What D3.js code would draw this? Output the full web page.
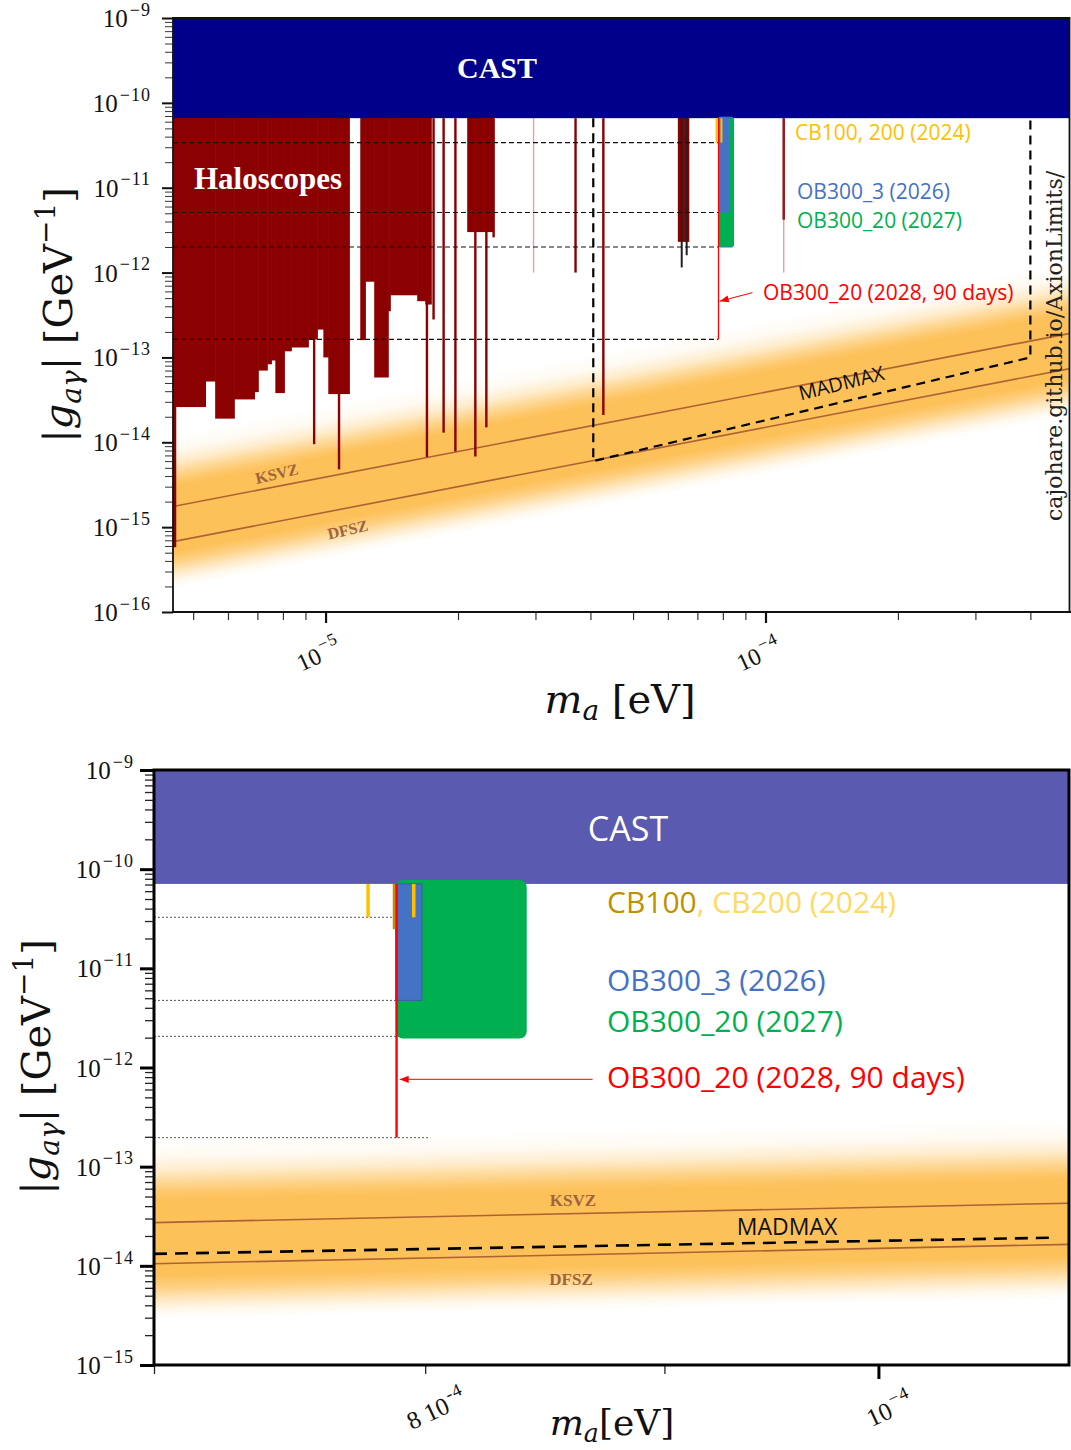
<!DOCTYPE html>
<html>
<head>
<meta charset="utf-8">
<script src="https://cdn.jsdelivr.net/npm/d3@7"></script>
<style>
  body { margin: 0; background: #fff; }
  svg { display: block; }
</style>
</head>
<body>
<svg id="chart" width="1071" height="1450"></svg>
<script>
// ---------- TOP PANEL DATA ----------
const topMassDomain = [4.5e-6, 5e-4];
const topCouplingDomain = [1e-16, 1e-9];
const topCastLimit = 6.6e-11;
// haloscope exclusion, stepped: [m_low, m_high, g_low]
const topHaloSteps = [
  [4.51e-6, 4.57e-6, 5.8e-16],
  [4.57e-6, 5.34e-6, 2.6e-14],
  [5.34e-6, 5.62e-6, 5.2e-14],
  [5.62e-6, 6.21e-6, 1.9e-14],
  [6.21e-6, 6.90e-6, 3.2e-14],
  [6.90e-6, 7.04e-6, 3.9e-14],
  [7.04e-6, 7.38e-6, 7.0e-14],
  [7.38e-6, 7.54e-6, 8.3e-14],
  [7.54e-6, 7.70e-6, 9.2e-14],
  [7.70e-6, 8.07e-6, 3.8e-14],
  [8.07e-6, 8.37e-6, 1.18e-13],
  [8.37e-6, 9.15e-6, 1.31e-13],
  [9.15e-6, 9.59e-6, 1.63e-13],
  [9.59e-6, 9.90e-6, 2.13e-13],
  [9.90e-6, 1.016e-5, 1.0e-13],
  [1.016e-5, 1.134e-5, 3.7e-14],
  [1.201e-5, 1.233e-5, 1.6e-13],
  [1.233e-5, 1.292e-5, 7.8e-13],
  [1.292e-5, 1.390e-5, 5.8e-14],
  [1.390e-5, 1.405e-5, 3.5e-13],
  [1.405e-5, 1.618e-5, 5.4e-13],
  [1.618e-5, 1.688e-5, 4.6e-13],
  [1.688e-5, 1.741e-5, 4.2e-13],
  [2.102e-5, 2.40e-5, 3.0e-12],
  [6.33e-5, 6.70e-5, 2.3e-12]
];
// narrow haloscope lines: [m, g_low]
const topHaloLines = [
  [9.42e-6, 9.5e-15],
  [1.073e-5, 4.8e-15],
  [1.70e-5, 6.7e-15],
  [1.76e-5, 2.8e-13],
  [1.855e-5, 1.3e-14],
  [1.973e-5, 7.8e-15],
  [2.19e-5, 6.8e-15],
  [2.32e-5, 1.5e-14],
  [2.41e-5, 2.6e-12],
  [3.70e-5, 1.0e-12],
  [4.28e-5, 2.1e-14],
  [1.10e-4, 4.2e-12]
];
const topHaloFaint = [[2.97e-5, 1.0e-12], [1.10e-4, 1.0e-12]];
const topOrganDark = [[6.45e-5, 1.15e-12], [6.62e-5, 1.6e-12]];
const topKsvz = [[4.5e-6, 1.75e-15], [5e-4, 1.95e-13]];
const topDfsz = [[4.5e-6, 6.75e-16], [5e-4, 7.5e-14]];
const topMadmax = [[4.06e-5, 6.6e-11], [4.06e-5, 6.0e-15], [4.0e-4, 1.0e-13], [4.0e-4, 6.6e-11]];
const topLevels = [3.4e-11, 5.1e-12, 2.0e-12, 1.63e-13];
const topLevelEnd = 7.8e-5;
const topCB = [7.74e-5, 7.94e-5];
const topCBLimit = 3.4e-11;
const topBlue = [7.82e-5, 8.28e-5, 5.1e-12];
const topGreen = [7.82e-5, 8.46e-5, 2.0e-12];
const topRed = [7.82e-5, 1.63e-13];
const topArrow = [[9.34e-5, 5.8e-13], [7.87e-5, 4.6e-13]];
const topXLabels = [1e-5, 1e-4];
const topXExp = ["−5", "−4"];

// ---------- BOTTOM PANEL DATA ----------
const botMassDomain = [7e-5, 1.1e-4];
const botCouplingDomain = [1e-15, 1e-9];
const botCastLimit = 7.1e-11;
const botCB = [[7.778e-5, 3.27e-11, "#FFC000"], [7.88e-5, 2.48e-11, "#BF9000"], [7.955e-5, 3.27e-11, "#FFC000"]];
const botBlue = [7.885e-5, 7.987e-5, 4.75e-12];
const botGreen = [7.885e-5, 8.41e-5, 1.96e-12];
const botRed = [7.888e-5, 1.96e-13];
const botArrow = [[8.687e-5, 7.6e-13], [7.9e-5, 7.6e-13]];
const botLevels = [3.27e-11, 4.75e-12, 2.06e-12, 1.96e-13];
const botLevelEnd = 8.02e-5;
const botKsvz = [[7e-5, 2.73e-14], [1.1e-4, 4.29e-14]];
const botDfsz = [[7e-5, 1.05e-14], [1.1e-4, 1.65e-14]];
const botMadmax = [[7e-5, 1.32e-14], [1.089e-4, 1.92e-14]];
const botXTicks = [7e-5, 8e-5, 9e-5, 1e-4];
const botXLabels = [[8e-5, "8 10", "-4"], [1e-4, "10", "−4"]];

// ---------- SETUP ----------
const svg = d3.select("#chart");
const serif = "'Liberation Serif', 'DejaVu Serif', serif";
const wideSerif = "'DejaVu Serif', serif";
const sans = "'Open Sans', 'Noto Sans', sans-serif";
const haloColor = "#8B0000";
const bandColor = "#FDC15A";
const lineBrown = "#A0522D";

const defs = svg.append("defs");
defs.append("marker").attr("id", "arrowRed")
  .attr("viewBox", "0 0 10 10").attr("refX", 10).attr("refY", 5)
  .attr("markerWidth", 9).attr("markerHeight", 9).attr("orient", "auto")
  .append("path").attr("d", "M0,1 L10,5 L0,9 z").attr("fill", "#FF0000");

const lineGen = (x, y) => d3.line().x(d => x(d[0])).y(d => y(d[1]));

function logTickValues(lo, hi, major) {
  let out = [];
  for (let e = Math.floor(Math.log10(lo)); e <= Math.ceil(Math.log10(hi)); e++) {
    for (let k = 1; k < 10; k++) {
      if (major !== (k === 1)) continue;
      const v = k * Math.pow(10, e);
      if (v >= lo * 0.999 && v <= hi * 1.001) out.push(v);
    }
  }
  return out;
}

function drawBand(layer, x, y, ksvz, dfsz, id) {
  const up = 0.85, down = 0.55;
  const upper = ksvz.map(d => [d[0], d[1] * Math.pow(10, up)]);
  const lower = dfsz.map(d => [d[0], d[1] / Math.pow(10, down)]);
  const pts = upper.concat(lower.slice().reverse()).map(d => [x(d[0]), y(d[1])]);
  const p0 = pts[0], p1 = pts[1];
  const dx = p1[0] - p0[0], dy = p1[1] - p0[1], len = Math.hypot(dx, dy);
  const vgap = pts[3][1] - p0[1];
  const perp = vgap * dx / len;
  const nx = -dy / len, ny = dx / len;
  const grad = defs.append("linearGradient").attr("id", id)
    .attr("gradientUnits", "userSpaceOnUse")
    .attr("x1", p0[0]).attr("y1", p0[1])
    .attr("x2", p0[0] + nx * perp).attr("y2", p0[1] + ny * perp);
  const gap = Math.log10(ksvz[0][1] / dfsz[0][1]);
  const total = up + gap + down;
  const stops = [
    [0, 0], [0.18, 0.08], [0.32, 0.3], [0.45, 0.65], [0.56, 0.92], [0.62, 1],
    [up + gap + 0.12, 1], [up + gap + 0.24, 0.75], [up + gap + 0.36, 0.38],
    [up + gap + 0.46, 0.12], [total, 0]
  ];
  stops.forEach(s => grad.append("stop")
    .attr("offset", s[0] / total).attr("stop-color", bandColor).attr("stop-opacity", s[1]));
  layer.append("path")
    .attr("d", "M" + pts.map(p => p.join(",")).join("L") + "Z")
    .attr("fill", `url(#${id})`);
}

function powText(layer, x, y, base, exp, size, anchor, rot) {
  const t = layer.append("text")
    .attr("transform", `translate(${x},${y})` + (rot ? ` rotate(${rot})` : ""))
    .attr("text-anchor", anchor)
    .attr("font-family", serif).attr("font-size", size).attr("fill", "#111");
  t.append("tspan").text(base);
  t.append("tspan").attr("font-size", size * 0.72).attr("dy", -size * 0.45).attr("dx", 2)
    .attr("letter-spacing", 1).text(exp);
  return t;
}

function axisLabelY(x, y) {
  const t = svg.append("text")
    .attr("transform", `translate(${x},${y}) rotate(-90)`)
    .attr("text-anchor", "middle").attr("font-family", wideSerif)
    .attr("font-size", 40).attr("fill", "#111");
  t.append("tspan").text("|");
  t.append("tspan").attr("font-style", "italic").text("g");
  t.append("tspan").attr("font-style", "italic").attr("font-size", 28).attr("dy", 9).text("aγ");
  t.append("tspan").attr("dy", -9).text("| [GeV");
  t.append("tspan").attr("font-size", 28).attr("dy", -17).text("−1");
  t.append("tspan").attr("dy", 17).text("]");
}

function axisLabelX(x, y, size, gap) {
  const t = svg.append("text")
    .attr("x", x).attr("y", y).attr("text-anchor", "middle")
    .attr("font-family", wideSerif).attr("font-size", size).attr("fill", "#111");
  t.append("tspan").attr("font-style", "italic").text("m");
  t.append("tspan").attr("font-style", "italic").attr("font-size", size * 0.7).attr("dy", 7).text("a");
  t.append("tspan").attr("dy", -7).text(gap + "[eV]");
}

// ================= TOP PANEL =================
const tx = d3.scaleLog().domain(topMassDomain).range([173, 1073]);
const ty = d3.scaleLog().domain(topCouplingDomain).range([612, 18]);
const tline = lineGen(tx, ty);

defs.append("clipPath").attr("id", "clipTop")
  .append("rect").attr("x", 173).attr("y", 18).attr("width", 897).attr("height", 594);

const topG = svg.append("g").attr("clip-path", "url(#clipTop)");
drawBand(topG, tx, ty, topKsvz, topDfsz, "bandTop");

[topKsvz, topDfsz].forEach(l => topG.append("path").attr("d", tline(l))
  .attr("fill", "none").attr("stroke", lineBrown).attr("stroke-width", 1.6).attr("opacity", 0.85));

// haloscopes
topG.append("g").selectAll("rect").data(topHaloSteps).join("rect")
  .attr("x", d => tx(d[0]) - 0.3)
  .attr("width", d => tx(d[1]) - tx(d[0]) + 0.6)
  .attr("y", ty(topCastLimit) - 1)
  .attr("height", d => ty(d[2]) - ty(topCastLimit) + 1)
  .attr("fill", haloColor);
topG.append("g").selectAll("rect").data(topHaloLines).join("rect")
  .attr("x", d => tx(d[0]) - 1.2).attr("width", 2.4)
  .attr("y", ty(topCastLimit)).attr("height", d => ty(d[1]) - ty(topCastLimit))
  .attr("fill", haloColor);
topG.append("g").selectAll("rect").data(topHaloFaint).join("rect")
  .attr("x", d => tx(d[0]) - 0.7).attr("width", 1.4)
  .attr("y", ty(topCastLimit)).attr("height", d => ty(d[1]) - ty(topCastLimit))
  .attr("fill", "#c03030").attr("opacity", 0.45);
topG.append("g").selectAll("rect").data(topOrganDark).join("rect")
  .attr("x", d => tx(d[0]) - 1).attr("width", 2)
  .attr("y", ty(topCastLimit)).attr("height", d => ty(d[1]) - ty(topCastLimit))
  .attr("fill", "#222");

// CAST
topG.append("rect").attr("x", 173).attr("y", ty(1e-9)).attr("width", 900)
  .attr("height", ty(topCastLimit) - ty(1e-9)).attr("fill", "#00008B");

// horizontal reference levels
topG.append("g").selectAll("line").data(topLevels).join("line")
  .attr("x1", tx(topMassDomain[0])).attr("x2", tx(topLevelEnd))
  .attr("y1", d => ty(d)).attr("y2", d => ty(d))
  .attr("stroke", "#111").attr("stroke-width", 1.1).attr("stroke-dasharray", "5,3");

// OB / CB sketches
topG.append("rect").attr("x", tx(topGreen[0])).attr("width", tx(topGreen[1]) - tx(topGreen[0]))
  .attr("y", ty(topCastLimit) - 1).attr("height", ty(topGreen[2]) - ty(topCastLimit) + 1)
  .attr("rx", 2).attr("fill", "#00B050").attr("stroke", "#4472C4").attr("stroke-width", 1);
topG.append("rect").attr("x", tx(topBlue[0])).attr("width", tx(topBlue[1]) - tx(topBlue[0]))
  .attr("y", ty(topCastLimit) - 1).attr("height", ty(topBlue[2]) - ty(topCastLimit) + 1)
  .attr("fill", "#4472C4");
topG.append("g").selectAll("line").data(topCB).join("line")
  .attr("x1", d => tx(d)).attr("x2", d => tx(d))
  .attr("y1", ty(topCastLimit)).attr("y2", ty(topCBLimit))
  .attr("stroke", "#FFC000").attr("stroke-width", 2);
topG.append("line").attr("x1", tx(topRed[0])).attr("x2", tx(topRed[0]))
  .attr("y1", ty(topCastLimit)).attr("y2", ty(topRed[1]))
  .attr("stroke", "#FF0000").attr("stroke-width", 1.3);
topG.append("line")
  .attr("x1", tx(topArrow[0][0])).attr("y1", ty(topArrow[0][1]))
  .attr("x2", tx(topArrow[1][0])).attr("y2", ty(topArrow[1][1]))
  .attr("stroke", "#FF0000").attr("stroke-width", 1).attr("marker-end", "url(#arrowRed)");

// MADMAX region
topG.append("path").attr("d", tline(topMadmax)).attr("fill", "none")
  .attr("stroke", "#000").attr("stroke-width", 2.2).attr("stroke-dasharray", "9,6");

// top panel frame & axes
const tAxes = svg.append("g");
tAxes.append("g").attr("transform", "translate(173,0)")
  .call(d3.axisLeft(ty).tickValues(logTickValues(1e-16, 1e-9, false)).tickSize(8).tickFormat(""))
  .call(a => a.select(".domain").remove())
  .call(a => a.selectAll("line").attr("stroke", "#333").attr("stroke-width", 1));
tAxes.append("g").attr("transform", "translate(173,0)")
  .call(d3.axisLeft(ty).tickValues(logTickValues(1e-16, 1e-9, true)).tickSize(11).tickFormat(""))
  .call(a => a.select(".domain").remove())
  .call(a => a.selectAll("line").attr("stroke", "#111").attr("stroke-width", 2));
tAxes.append("g").attr("transform", "translate(0,612)")
  .call(d3.axisBottom(tx).tickValues(logTickValues(4.5e-6, 5e-4, false)).tickSize(8).tickFormat(""))
  .call(a => a.select(".domain").remove())
  .call(a => a.selectAll("line").attr("stroke", "#333").attr("stroke-width", 1.2));
tAxes.append("g").attr("transform", "translate(0,612)")
  .call(d3.axisBottom(tx).tickValues(topXLabels).tickSize(11).tickFormat(""))
  .call(a => a.select(".domain").remove())
  .call(a => a.selectAll("line").attr("stroke", "#111").attr("stroke-width", 2.2));
tAxes.append("path").attr("d", "M173,612 V18 H1069.5 V612")
  .attr("fill", "none").attr("stroke", "#111").attr("stroke-width", 1.8);
tAxes.append("line").attr("x1", 172).attr("x2", 1071).attr("y1", 612).attr("y2", 612)
  .attr("stroke", "#111").attr("stroke-width", 2.2);

logTickValues(1e-16, 1e-9, true).forEach(v => {
  powText(svg, 151, ty(v) + 9, "10", "−" + Math.round(-Math.log10(v)), 25, "end");
});
topXLabels.forEach((v, i) => powText(svg, tx(v) - 3, 662, "10", topXExp[i], 24, "middle", -25));

axisLabelY(72, 315);
axisLabelX(620, 713, 40, " ");

// top panel text
svg.append("text").attr("x", 497).attr("y", 78).attr("text-anchor", "middle")
  .attr("font-family", serif).attr("font-weight", "bold").attr("font-size", 30)
  .attr("fill", "#fff").text("CAST");
svg.append("text").attr("x", 268).attr("y", 189).attr("text-anchor", "middle")
  .attr("font-family", serif).attr("font-weight", "bold").attr("font-size", 31)
  .attr("fill", "#fff").text("Haloscopes");
[["CB100, 200 (2024)", 795, 140, "#FFC000"],
 ["OB300_3 (2026)", 797, 199, "#4472C4"],
 ["OB300_20 (2027)", 797, 228, "#00B050"],
 ["OB300_20 (2028, 90 days)", 763, 300, "#FF0000"]].forEach(d => {
  svg.append("text").attr("x", d[1]).attr("y", d[2]).attr("font-family", sans)
    .attr("font-size", 21).attr("fill", d[3]).text(d[0]);
});
svg.append("text").attr("transform", "translate(843,390) rotate(-14)")
  .attr("text-anchor", "middle").attr("font-family", sans).attr("font-size", 20)
  .attr("fill", "#111").text("MADMAX");
svg.append("text").attr("transform", "translate(278,479) rotate(-13)")
  .attr("text-anchor", "middle").attr("font-family", serif).attr("font-weight", "bold")
  .attr("font-size", 16).attr("fill", "#A0643C").text("KSVZ");
svg.append("text").attr("transform", "translate(349,535) rotate(-13)")
  .attr("text-anchor", "middle").attr("font-family", serif).attr("font-weight", "bold")
  .attr("font-size", 16).attr("fill", "#A0643C").text("DFSZ");
svg.append("text").attr("transform", "translate(1062,346) rotate(-90)")
  .attr("text-anchor", "middle").attr("font-family", wideSerif).attr("font-size", 22)
  .attr("fill", "#222").text("cajohare.github.io/AxionLimits/");

// ================= BOTTOM PANEL =================
const bx = d3.scaleLog().domain(botMassDomain).range([154, 1072]);
const by = d3.scaleLog().domain(botCouplingDomain).range([1365, 770]);
const bline = lineGen(bx, by);

defs.append("clipPath").attr("id", "clipBot")
  .append("rect").attr("x", 154).attr("y", 770).attr("width", 915).attr("height", 595);

const botG = svg.append("g").attr("clip-path", "url(#clipBot)");
drawBand(botG, bx, by, botKsvz, botDfsz, "bandBot");
[botKsvz, botDfsz].forEach(l => botG.append("path").attr("d", bline(l))
  .attr("fill", "none").attr("stroke", lineBrown).attr("stroke-width", 1.6).attr("opacity", 0.85));
botG.append("path").attr("d", bline(botMadmax)).attr("fill", "none")
  .attr("stroke", "#000").attr("stroke-width", 2.6).attr("stroke-dasharray", "13,8");

botG.append("rect").attr("x", 154).attr("y", by(1e-9)).attr("width", 916)
  .attr("height", by(botCastLimit) - by(1e-9)).attr("fill", "#5A5AB0");

botG.append("g").selectAll("line").data(botLevels).join("line")
  .attr("x1", bx(botMassDomain[0])).attr("x2", bx(botLevelEnd))
  .attr("y1", d => by(d)).attr("y2", d => by(d))
  .attr("stroke", "#444").attr("stroke-width", 0.9).attr("stroke-dasharray", "2,2");

botG.append("rect").attr("x", bx(botGreen[0])).attr("width", bx(botGreen[1]) - bx(botGreen[0]))
  .attr("y", by(botCastLimit) - 4).attr("height", by(botGreen[2]) - by(botCastLimit) + 4)
  .attr("rx", 7).attr("fill", "#00B050");
botG.append("rect").attr("x", bx(botBlue[0])).attr("width", bx(botBlue[1]) - bx(botBlue[0]))
  .attr("y", by(botCastLimit)).attr("height", by(botBlue[2]) - by(botCastLimit))
  .attr("fill", "#4472C4").attr("stroke", "#3A5E9E").attr("stroke-width", 1);
botG.append("g").selectAll("line").data(botCB).join("line")
  .attr("x1", d => bx(d[0])).attr("x2", d => bx(d[0]))
  .attr("y1", by(botCastLimit)).attr("y2", d => by(d[1]))
  .attr("stroke", d => d[2]).attr("stroke-width", 3.5);
botG.append("line").attr("x1", bx(botRed[0])).attr("x2", bx(botRed[0]))
  .attr("y1", by(botCastLimit)).attr("y2", by(botRed[1]))
  .attr("stroke", "#FF0000").attr("stroke-width", 2.4);
botG.append("line")
  .attr("x1", bx(botArrow[0][0])).attr("y1", by(botArrow[0][1]))
  .attr("x2", bx(botArrow[1][0])).attr("y2", by(botArrow[1][1]))
  .attr("stroke", "#FF0000").attr("stroke-width", 1).attr("marker-end", "url(#arrowRed)");

const bAxes = svg.append("g");
bAxes.append("g").attr("transform", "translate(154,0)")
  .call(d3.axisLeft(by).tickValues(logTickValues(1e-15, 1e-9, false)).tickSize(9).tickFormat(""))
  .call(a => a.select(".domain").remove())
  .call(a => a.selectAll("line").attr("stroke", "#222").attr("stroke-width", 1.3));
bAxes.append("g").attr("transform", "translate(154,0)")
  .call(d3.axisLeft(by).tickValues(logTickValues(1e-15, 1e-9, true)).tickSize(14).tickFormat(""))
  .call(a => a.select(".domain").remove())
  .call(a => a.selectAll("line").attr("stroke", "#000").attr("stroke-width", 3));
bAxes.append("g").attr("transform", "translate(0,1365)")
  .call(d3.axisBottom(bx).tickValues(botXTicks.slice(0, 3)).tickSize(9).tickFormat(""))
  .call(a => a.select(".domain").remove())
  .call(a => a.selectAll("line").attr("stroke", "#222").attr("stroke-width", 1.3));
bAxes.append("g").attr("transform", "translate(0,1365)")
  .call(d3.axisBottom(bx).tickValues(botXTicks.slice(3)).tickSize(14).tickFormat(""))
  .call(a => a.select(".domain").remove())
  .call(a => a.selectAll("line").attr("stroke", "#000").attr("stroke-width", 3));
bAxes.append("rect").attr("x", 154).attr("y", 770).attr("width", 915).attr("height", 595)
  .attr("fill", "none").attr("stroke", "#000").attr("stroke-width", 3);

logTickValues(1e-15, 1e-9, true).forEach(v => {
  powText(svg, 134, by(v) + 9, "10", "−" + Math.round(-Math.log10(v)), 25, "end");
});
botXLabels.forEach(d => powText(svg, bx(d[0]) + 15, 1417, d[1], d[2], 25, "middle", -25));

axisLabelY(50, 1067);
axisLabelX(612, 1435, 36, "");

svg.append("text").attr("x", 628).attr("y", 841).attr("text-anchor", "middle")
  .attr("font-family", sans).attr("font-size", 34).attr("fill", "#fff").text("CAST");
const cbText = svg.append("text").attr("x", 607).attr("y", 913)
  .attr("font-family", sans).attr("font-size", 30);
cbText.append("tspan").attr("fill", "#BF9000").text("CB100");
cbText.append("tspan").attr("fill", "#FFD966").text(", CB200 (2024)");
[["OB300_3 (2026)", 991, "#4472C4"],
 ["OB300_20 (2027)", 1032, "#00B050"],
 ["OB300_20 (2028, 90 days)", 1088, "#FF0000"]].forEach(d => {
  svg.append("text").attr("x", 607).attr("y", d[1]).attr("font-family", sans)
    .attr("font-size", 30).attr("fill", d[2]).text(d[0]);
});
svg.append("text").attr("x", 787).attr("y", 1235).attr("text-anchor", "middle")
  .attr("font-family", sans).attr("font-size", 23).attr("fill", "#111").text("MADMAX");
svg.append("text").attr("x", 573).attr("y", 1206).attr("text-anchor", "middle")
  .attr("font-family", serif).attr("font-weight", "bold").attr("font-size", 17)
  .attr("fill", "#A0643C").text("KSVZ");
svg.append("text").attr("x", 571).attr("y", 1285).attr("text-anchor", "middle")
  .attr("font-family", serif).attr("font-weight", "bold").attr("font-size", 17)
  .attr("fill", "#A0643C").text("DFSZ");
</script>
</body>
</html>
